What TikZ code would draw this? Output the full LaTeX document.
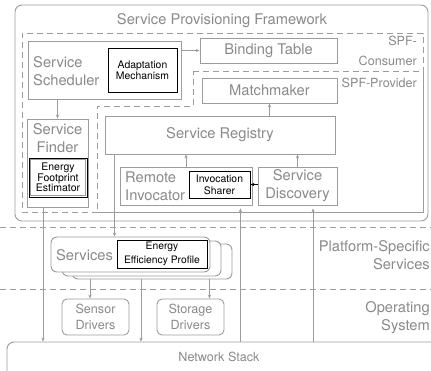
\documentclass[tikz,border=0pt]{standalone}
\usepackage{fontspec}
\setmainfont{TeX Gyre Heros}
\usetikzlibrary{arrows.meta}
\definecolor{tgrey}{HTML}{8A8A8A}
\definecolor{lgrey}{HTML}{9C9C9C}
\tikzset{
  box/.style={draw=lgrey, line width=0.9pt, inner sep=0pt, text=tgrey},
  ibox/.style={draw=black, line width=0.9pt, inner sep=0pt, text=black, fill=white, align=center},
  lbl/.style={text=tgrey, inner sep=0pt, font=\fontsize{14.7}{18}\selectfont},
  mlbl/.style={text=tgrey, inner sep=0pt, font=\fontsize{12.6}{15}\selectfont},
  arr/.style={draw=lgrey, line width=0.8pt, -{Stealth[length=4pt,width=3.2pt]}},
  barr/.style={draw=black, line width=0.8pt, -{Stealth[length=4pt,width=3.2pt]}},
  dsh/.style={draw=lgrey, line width=0.8pt, dash pattern=on 6pt off 4pt},
}
\begin{document}
\begin{tikzpicture}[x=1pt,y=-1pt]
\useasboundingbox (0,0) rectangle (431,370);
\clip (0,0) rectangle (431,370);
\fill[white] (0,0) rectangle (431,370);

% framework frame
\node[box, rounded corners=7pt, minimum width=413pt, minimum height=216pt] (frame) at (221.5,113) {};
\node[lbl] (title) at (222,21) {Service Provisioning Framework};

% consumer / provider regions
\node[dsh, inner sep=0pt, minimum width=401pt, minimum height=179pt] (consumer) at (222.5,122.5) {};
\draw[dsh] (193,71) -- (423,71) -- (423,212) -- (97,212) -- (97,106) -- (193,106) -- cycle;
\node[mlbl, align=right, anchor=east, font=\fontsize{12.6}{20}\selectfont] (conslbl) at (417,51) {SPF-\\Consumer};
\node[mlbl, anchor=east] (provlbl) at (417,83) {SPF-Provider};

% scheduler
\node[box, minimum width=153pt, minimum height=58pt] (scheduler) at (104.5,70) {};
\node[lbl, align=left, anchor=west] (schedtxt) at (33,71) {Service\\Scheduler};
\node[ibox, minimum width=69pt, minimum height=44pt, font=\fontsize{10.4}{11}\selectfont] (adapt) at (142.5,70) {Adaptation\\Mechanism};

\node[box, lbl, draw=lgrey, line width=0.9pt, minimum width=137pt, minimum height=25pt] (binding) at (268.5,50.5) {Binding Table};
\node[box, lbl, draw=lgrey, line width=0.9pt, minimum width=135pt, minimum height=25pt] (match) at (269.5,90.5) {Matchmaker};
\node[box, lbl, draw=lgrey, line width=0.9pt, minimum width=230pt, minimum height=38pt] (registry) at (220,135) {Service Registry};

% finder
\node[box, minimum width=61pt, minimum height=88pt] (finder) at (57.5,163) {};
\node[lbl, align=center] (findtxt) at (57.5,138) {Service\\Finder};
\node[ibox, minimum width=58pt, minimum height=39pt, font=\fontsize{10.5}{10.5}\selectfont] (estim) at (58,177.5) {Energy\\Footprint\\Estimator};
\draw[lgrey, line width=0.7pt] ([shift={(1.8,1.8)}]estim.north west) rectangle ([shift={(-1.8,-1.8)}]estim.south east);

% invocator / discovery
\node[box, minimum width=132pt, minimum height=38pt] (invoc) at (186,186) {};
\node[lbl, align=left, anchor=west] (invoctxt) at (125,186) {Remote\\Invocator};
\node[ibox, minimum width=61pt, minimum height=27pt, font=\fontsize{10.4}{12.4}\selectfont] (sharer) at (219.5,184.5) {Invocation\\Sharer};
\node[box, lbl, align=center, draw=lgrey, line width=0.9pt, minimum width=79pt, minimum height=38pt] (disc) at (297.5,186) {Service\\Discovery};

% separators
\draw[dsh] (0,227) -- (431,227);
\draw[dsh] (0,289) -- (431,289);
\node[lbl, align=right, anchor=east] (pslbl) at (430,255) {Platform-Specific\\Services};
\node[lbl, align=right, anchor=east] (oslbl) at (430,318) {Operating\\System};

% services stack
\node[box, fill=white, rounded corners=6pt, minimum width=160pt, minimum height=35pt] (stack3) at (152,261.5) {};
\node[box, fill=white, rounded corners=6pt, minimum width=159pt, minimum height=35pt] (stack2) at (141.5,258.5) {};
\node[box, fill=white, rounded corners=6pt, minimum width=159pt, minimum height=35pt] (front) at (130.5,254.5) {};
\node[lbl] (servtxt) at (84.5,255) {Services};
\node[ibox, minimum width=90pt, minimum height=28pt, font=\fontsize{10.3}{13.3}\selectfont] (eep) at (162,254) {Energy\\Efficiency Profile};

% drivers
\node[box, rounded corners=5pt, align=center, minimum width=67pt, minimum height=36pt, font=\fontsize{12.6}{16}\selectfont] (sensor) at (95.5,317) {Sensor\\Drivers};
\node[box, rounded corners=5pt, align=center, minimum width=67pt, minimum height=36pt, font=\fontsize{12.6}{16}\selectfont] (storage) at (190.5,317) {Storage\\Drivers};

% network stack
\node[box, rounded corners=7pt, minimum width=438pt, minimum height=58pt] (net) at (226,371) {};
\node[mlbl] (nettxt) at (219,357) {Network Stack};

% connectors
\draw[arr] (scheduler.east |- binding.west) -- (binding.west);
\draw[arr] (finder.north |- scheduler.south) -- (finder.north);
\draw[arr] (match.south |- registry.north) -- (match.south);
\draw[arr] (invoc.north) -- (invoc.north |- registry.south);
\draw[arr] (disc.north) -- (disc.north |- registry.south);
\draw[barr] (disc.west |- sharer.east) -- (sharer.east);
\coordinate (rs) at ([xshift=10pt]registry.south west);
\draw[arr] (rs) -- (rs |- front.north);
\coordinate (sa) at ([xshift=-5.5pt]sensor.north);
\draw[arr] (sa |- stack3.south) -- (sa);
\coordinate (sb) at ([xshift=-23pt]stack3.south east);
\draw[arr] (sb) -- (sb |- storage.north);
\coordinate (fa) at ([xshift=-14.5pt]finder.south);
\draw[arr] (fa) -- (fa |- net.north);
\coordinate (na) at ([xshift=-11pt]stack3.south);
\draw[arr] (na) -- (na |- net.north);
\coordinate (ia) at ([xshift=-12pt]invoc.south east);
\draw[arr, shorten >=3pt] (ia |- net.north) -- (ia);
\coordinate (da) at ([xshift=15.5pt]disc.south);
\draw[arr, shorten >=3pt] (da |- net.north) -- (da);
\end{tikzpicture}
\end{document}
